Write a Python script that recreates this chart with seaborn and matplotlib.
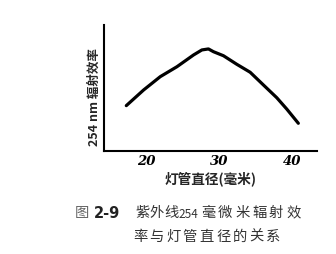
import matplotlib
matplotlib.use("Agg")
import matplotlib.pyplot as plt
import seaborn as sns
import pandas as pd

diameter = [17.26, 19.63, 21.92, 24.21, 26.48, 27.63, 28.53, 29.22, 30.59,
            32.42, 34.25, 36.07, 37.90, 39.27, 40.86]
efficiency = [36.0, 48.4, 59.0, 66.9, 76.2, 80.2, 81.0, 78.8, 75.6,
              68.8, 62.5, 52.4, 42.3, 33.3, 22.0]
xticks = [20, 30, 40]
ylabel = "254 nm 辐射效率"
xlabel = "灯管直径(毫米)"
cap_fig = "图"
cap_num = "2-9"
cap_a = "紫外线"
cap_b = "254"
cap_c = "毫微米辐射效"
caption2 = "率与灯管直径的关系"

sns.set_theme(style="white")
plt.rcParams['font.family'] = ['Noto Sans CJK SC', 'DejaVu Sans']

df = pd.DataFrame({"d": diameter, "e": efficiency})
fig = plt.figure(figsize=(3.36, 2.54), dpi=100)
ax = fig.add_axes([0.3095, 0.4055, 0.6335, 0.4961])
sns.lineplot(data=df, x="d", y="e", ax=ax, color="black", linewidth=2.3)
ax.set_xlim(14.2, 43.4)
ax.set_ylim(0, 100)
sns.despine(ax=ax)
for s in ["left", "bottom"]:
    ax.spines[s].set_linewidth(1.5)
    ax.spines[s].set_color("black")
ax.set_yticks([])
ax.set_xticks(xticks)
ax.set_xticklabels([str(t) for t in xticks], fontsize=9.5, fontweight="bold",
                   fontstyle="italic", family="DejaVu Serif")
ax.tick_params(axis="x", direction="in", length=3, width=1, pad=3, colors="black")
ax.set_xlabel(xlabel, fontsize=9.8, fontweight="bold", labelpad=2)
ax.set_ylabel(ylabel, fontsize=9, fontweight="bold")
ax.yaxis.set_label_coords(-0.017, 0.43)


def spaced(x_px, y_frac, s, pitch_px, **kw):
    for i, ch in enumerate(s):
        fig.text((x_px + i * pitch_px) / 336, y_frac, ch, ha="left", va="center", **kw)


y1, y2 = 0.161, 0.067
cap_kw = dict(fontsize=10.3, color="#333333")
fig.text(75 / 336, y1, cap_fig, ha="left", va="center", fontsize=10.3, color="#666666")
fig.text(94 / 336, y1, cap_num, ha="left", va="center", fontsize=10.5,
         fontweight="bold", color="#222222", family="DejaVu Sans")
spaced(135, y1, cap_a, 14.6, **cap_kw)
fig.text(178 / 336, y1 - 0.004, cap_b, ha="left", va="center", fontsize=8.5, color="#333333")
spaced(201, y1, cap_c, 17.0, **cap_kw)
spaced(133, y2, caption2, 16.6, **cap_kw)
fig.savefig("out.png", dpi=100, facecolor="white")
